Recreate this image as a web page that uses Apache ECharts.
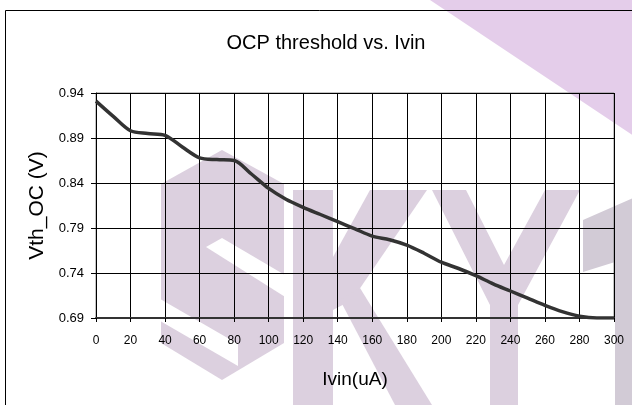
<!DOCTYPE html>
<html>
<head>
<meta charset="utf-8">
<script src="https://cdn.jsdelivr.net/npm/echarts@6/dist/echarts.min.js"></script>
<style>
  html, body { margin: 0; padding: 0; background: #fff; }
  #main { width: 632px; height: 405px; }
</style>
</head>
<body>
<div id="main"></div>
<script>
// 数据
var ivin = [0, 10, 20, 30, 40, 50, 60, 70, 80, 90, 100, 110, 120, 130, 140, 150,
  160, 170, 180, 190, 200, 210, 220, 230, 240, 250, 260, 270, 280, 290, 300];
var vth = [0.931, 0.914, 0.898, 0.895, 0.893, 0.880, 0.868, 0.866, 0.865, 0.850, 0.834,
  0.822, 0.813, 0.805, 0.797, 0.789, 0.781, 0.777, 0.771, 0.762, 0.752, 0.745,
  0.737, 0.728, 0.720, 0.712, 0.704, 0.697, 0.692, 0.690, 0.690];
var xTicks = [0, 300, 20];        // min, max, step
var yTicks = [0.69, 0.94, 0.05];

var chart = echarts.init(document.getElementById('main'), null, { renderer: 'canvas' });

var font = 'Liberation Sans, Arial, sans-serif';
var wmColor = '#dcd0df';

var points = [];
for (var i = 0; i < ivin.length; i++) {
  points.push([ivin[i], vth[i]]);
}

// 背景水印 (SKY)
var watermark = [
  { type: 'polygon', z: -10, shape: { points: [[430, 0], [640, 0], [640, 140]] }, style: { fill: '#e4cdea' } },
  // S
  { type: 'polygon', z: -10, shape: { points: [[161, 184], [222, 150], [284, 184], [284, 343], [222, 380], [161, 343]] }, style: { fill: wmColor } },
  { type: 'polygon', z: -9, shape: { points: [[206, 247], [222, 238], [290, 278], [290, 300]] }, style: { fill: '#fff' } },
  { type: 'polygon', z: -9, shape: { points: [[155, 296], [155, 318], [238, 366], [238, 344]] }, style: { fill: '#fff' } },
  // K
  { type: 'polygon', z: -10, shape: { points: [[293, 190], [333, 190], [333, 405], [293, 405]] }, style: { fill: wmColor } },
  { type: 'polygon', z: -10, shape: { points: [[333, 257], [370, 190], [427, 190], [352, 300], [333, 310]] }, style: { fill: wmColor } },
  { type: 'polygon', z: -10, shape: { points: [[340, 300], [360, 288], [432, 405], [395, 405]] }, style: { fill: wmColor } },
  // Y
  { type: 'polygon', z: -10, shape: { points: [[432, 190], [466, 190], [504, 265], [545, 190], [580, 190], [518, 305], [518, 405], [490, 405], [490, 305]] }, style: { fill: wmColor } },
  // 右侧残字
  { type: 'polygon', z: -10, shape: { points: [[583, 220], [640, 195], [640, 405], [615, 405], [615, 262], [583, 272]] }, style: { fill: '#d2cbd6' } },
  // 外框
  { type: 'rect', z: 5, shape: { x: 5.5, y: 10.5, width: 660, height: 420 }, style: { fill: 'none', stroke: '#000', lineWidth: 1 } }
];

var option = {
  backgroundColor: '#fff',
  animation: false,
  title: {
    text: 'OCP threshold vs. Ivin',
    left: 321,
    top: 28,
    textAlign: 'center',
    textStyle: { fontFamily: font, fontSize: 20, fontWeight: 'normal', color: '#000' }
  },
  graphic: watermark,
  grid: {
    left: 96,
    right: 18,
    top: 93,
    bottom: 87,
    show: true,
    borderColor: '#888',
    borderWidth: 1,
    backgroundColor: 'transparent'
  },
  xAxis: {
    type: 'value',
    min: xTicks[0],
    max: xTicks[1],
    interval: xTicks[2],
    name: 'Ivin(uA)',
    nameLocation: 'middle',
    nameGap: 52,
    nameTextStyle: { fontFamily: font, fontSize: 19, color: '#000' },
    axisLine: { show: true, lineStyle: { color: '#333', width: 2 } },
    axisTick: { show: true, length: 4, lineStyle: { color: '#000' } },
    axisLabel: { fontFamily: font, fontSize: 12, color: '#000', margin: 17 },
    splitLine: { show: true, lineStyle: { color: '#000', width: 1 } }
  },
  yAxis: {
    type: 'value',
    min: yTicks[0],
    max: yTicks[1],
    interval: yTicks[2],
    name: 'Vth_OC (V)',
    nameLocation: 'middle',
    nameGap: 46,
    nameTextStyle: { fontFamily: font, fontSize: 21, color: '#000' },
    axisLine: { show: true, lineStyle: { color: '#000', width: 1 } },
    axisTick: { show: true, length: 5, lineStyle: { color: '#000' } },
    axisLabel: {
      fontFamily: font, fontSize: 13, color: '#000', margin: 12,
      formatter: function (v) { return v.toFixed(2); }
    },
    splitLine: { show: true, lineStyle: { color: '#000', width: 1 } }
  },
  series: [
    {
      type: 'line',
      data: points,
      smooth: 0.3,
      symbol: 'none',
      lineStyle: { color: '#333', width: 3.5 }
    }
  ]
};
chart.setOption(option, true);
</script>
</body>
</html>
